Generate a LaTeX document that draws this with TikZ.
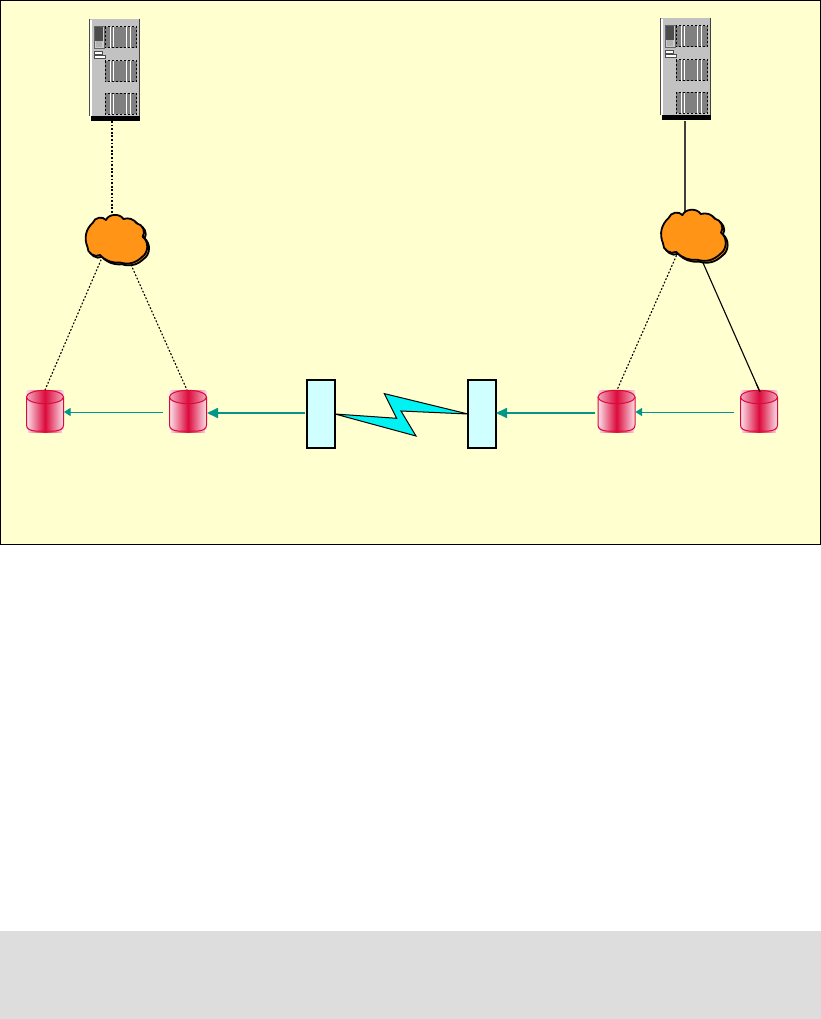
\documentclass[tikz,border=0pt]{standalone}
\usetikzlibrary{arrows.meta}
\definecolor{paper}{HTML}{FFFFCF}
\definecolor{band}{HTML}{DDDDDD}
\definecolor{teal1}{HTML}{009688}
\definecolor{crim}{HTML}{DC0A3C}
\definecolor{pale}{HTML}{FBE3EC}
\definecolor{orangec}{HTML}{FF9416}
\definecolor{boxc}{HTML}{CFFFFF}
\definecolor{bolt}{HTML}{00F2F2}
\tikzset{
  x=1pt,y=-1pt,
  anchorbox/.style={rectangle,inner sep=0pt,outer sep=0pt,draw=none},
  thinflow/.style={draw=teal1,line width=1pt,-{Triangle[length=6.5pt,width=8pt]}},
  thickflow/.style={draw=teal1,line width=1.7pt,-{Triangle[length=11pt,width=10pt]}},
  dotlink/.style={line width=1.1pt,dash pattern=on 1.8pt off 1.8pt},
  solidlink/.style={line width=1.1pt},
  relay/.style={anchorbox,draw=black,line width=1.5pt,fill=boxc,minimum width=28pt,minimum height=68pt},
  server/.pic={
    \node[anchorbox,minimum width=51pt,minimum height=102pt,anchor=north west] (-box) at (0,0) {};
    \fill[gray!48] (0,0) rectangle (51,97);
    \fill[white] (1,1) rectangle (3.2,97);
    \draw[black!70,line width=.8pt] (0.3,0.3) -- (0.3,97);
    \draw[black!75,line width=1pt] (50.5,0) -- (50.5,97);
    \fill[black] (1.7,97) rectangle (51,101.7);
    \foreach \y in {7.7,41.7,74.3}{
      \fill[gray] (16,\y) rectangle (47.7,\y+21);
      \foreach \xx in {21,24.3,37.7,41}
        \draw[white,line width=1pt] (\xx,\y) -- (\xx,\y+21);
      \draw[black,line width=.8pt,dash pattern=on 2pt off 2pt] (16,\y) rectangle (47.7,\y+21);
    }
    \fill[gray!40] (5,7) rectangle (15,29);
    \draw[black!60,line width=.6pt] (5,7) rectangle (15,29);
    \fill[black!70] (6,8) rectangle (14,22);
    \fill[gray!60] (7,22) rectangle (13,28);
    \fill[white,draw=black!70,line width=.5pt] (5,32) rectangle (13.5,35.5);
    \fill[white,draw=black!70,line width=.5pt] (5,36) rectangle (16.5,39.5);
  },
  cloudy/.pic={
    \node[anchorbox,minimum width=62pt,minimum height=56pt] (-box) at (0,0) {};
    \def\cloudpath{(-11,-18) to[bend left=65] (6.3,-19) to[bend left=35] (20,-14.5) to[bend left=60] (25.7,-1.3) to[bend left=55] (25,19) to[bend left=30] (3,24.5) to[bend left=25] (-17,17) to[bend left=65] (-29.5,9) to[bend left=35] (-24,-15.5) to[bend left=65] (-11,-18) -- cycle}
    \draw[black,line width=1.8pt,fill=orangec,shift={(1.8,1.8)},line join=round] \cloudpath;
    \draw[black,line width=1.8pt,fill=orangec,line join=round] \cloudpath;
  },
  disk/.pic={
    \node[anchorbox,minimum width=38pt,minimum height=42pt,anchor=north west] (-box) at (0,0) {};
    \shade[left color=pale,right color=pale,middle color=crim] (0.3,0) rectangle (37.7,42);
    \fill[paper] (-.5,-.5) rectangle (1,1);
    \fill[paper] (38.5,-.5) rectangle (37,1);
    \fill[paper] (-.5,42.5) rectangle (2,40);
    \fill[paper] (38.5,42.5) rectangle (36,40);
    \draw[crim,line width=1pt,fill=none] (0.5,7) -- (0.5,35) .. controls (0.5,39) and (4,40.5) .. (9,41) -- (29,41) .. controls (34,40.5) and (37.5,39) .. (37.5,35) -- (37.5,7);
    \draw[crim,line width=1pt,left color=pale!75!crim,right color=pale!75!crim,middle color=crim] (19,7) ellipse [x radius=18.5,y radius=6.7];
  }
}
\begin{document}
\begin{tikzpicture}
\useasboundingbox (0,0) rectangle (821,1019);
\draw[black,line width=.8pt,fill=paper] (0.4,0.4) rectangle (820.4,544);
\fill[band] (0,931) rectangle (821,1019);

% named end points of the connectors
\coordinate (ltop) at (112,121);
\coordinate (lcl) at (112,216);
\coordinate (lcl1) at (104,253);
\coordinate (lcl2) at (128,258);
\coordinate (d1top) at (45,390);
\coordinate (d2top) at (187,390);
\coordinate (rtop) at (685,121);
\coordinate (rcl) at (685,213);
\coordinate (rcl1) at (678,252);
\coordinate (rcl2) at (700,256);
\coordinate (d3top) at (617,390);
\coordinate (d4top) at (760,392);
\coordinate (y1) at (0,412);
\coordinate (y2) at (0,413);

\draw[dotlink] (ltop) -- (lcl);
\draw[dotlink] (lcl1) -- (d1top);
\draw[dotlink] (lcl2) -- (d2top);
\draw[solidlink,black!75] (rtop) -- (rcl);
\draw[dotlink] (rcl1) -- (d3top);
\draw[solidlink] (rcl2) -- (d4top);

\pic (srvL) at (89,19) {server};
\pic (srvR) at (660,18) {server};
\pic (clL) at (117,238) {cloudy};
\pic[scale=1.05] (clR) at (694,234) {cloudy};
\pic (d1) at (26,390) {disk};
\pic (d2) at (169,390) {disk};
\pic (d3) at (597.5,390) {disk};
\pic (d4) at (740,390) {disk};
% the solid line ends over the top of its disk
\draw[solidlink] (d4top) -- ++(-4,-8.8);

\node[relay] (rL) at (321,414) {};
\node[relay] (rR) at (482,414) {};

\draw[draw=black,line width=1pt,fill=bolt,line join=miter]
  (rL.east) -- (396.7,418.3) -- (384.3,393.6) -- (rR.west) -- (401,411) -- (416,436) -- cycle;

\draw[thinflow] ([xshift=-6pt]d2-box.west |- y1) -- (d1-box.east |- y1);
\draw[thinflow] ([xshift=-6pt]d4-box.west |- y1) -- (d3-box.east |- y1);
\draw[thickflow] ([xshift=-2pt]rL.west |- y2) -- (d2-box.east |- y2);
\draw[thickflow] ([xshift=-2.5pt]d3-box.west |- y2) -- (rR.east |- y2);
\end{tikzpicture}
\end{document}
